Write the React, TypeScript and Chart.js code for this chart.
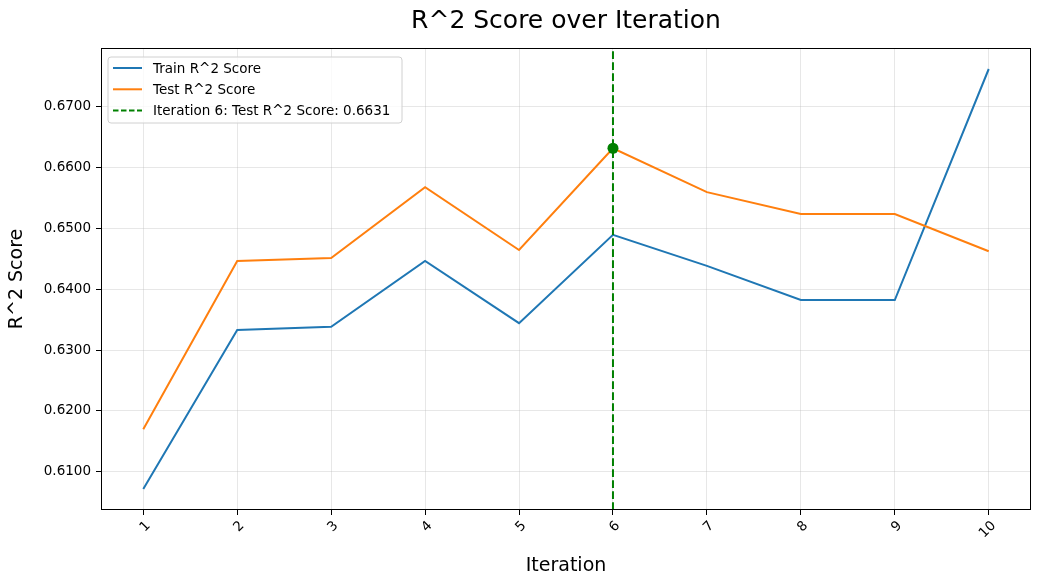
import React, { useEffect, useRef } from "react";
import { Chart, registerables } from "chart.js";

Chart.register(...registerables);

const iterations = [1, 2, 3, 4, 5, 6, 7, 8, 9, 10];
const trainScores = [0.6072, 0.6333, 0.6338, 0.6446, 0.6344, 0.6489, 0.6438, 0.6382, 0.6382, 0.6761];
const testScores = [0.617, 0.6446, 0.6451, 0.6567, 0.6464, 0.6631, 0.6559, 0.6523, 0.6523, 0.6462];
const yTicks = [0.61, 0.62, 0.63, 0.64, 0.65, 0.66, 0.67];
const bestIteration = 6;
const bestScore = 0.6631;

const CHART_TITLE = "R^2 Score over Iteration";
const TRAIN_LABEL = "Train R^2 Score";
const TEST_LABEL = "Test R^2 Score";
const BEST_LABEL = `Iteration ${bestIteration}: Test R^2 Score: ${bestScore.toFixed(4)}`;

const FONT = "'DejaVu Sans', 'Liberation Sans', sans-serif";

const allVals = [...trainScores, ...testScores];
const dMin = Math.min(...allVals);
const dMax = Math.max(...allVals);
const yMin = dMin - 0.05 * (dMax - dMin);
const yMax = dMax + 0.05 * (dMax - dMin);
const xMin = iterations[0] - 0.45;
const xMax = iterations[iterations.length - 1] + 0.45;

const framePlugin = {
  id: "frameAndLegend",
  afterDraw(chart: any) {
    const ctx = chart.ctx as CanvasRenderingContext2D;
    const a = chart.chartArea;
    ctx.save();
    ctx.strokeStyle = "#000";
    ctx.lineWidth = 1;
    ctx.strokeRect(Math.round(a.left) + 0.5, Math.round(a.top) + 0.5, Math.round(a.right - a.left) - 1, Math.round(a.bottom - a.top) - 1);

    // title centred over the plot area
    ctx.fillStyle = "#000";
    ctx.font = `25px ${FONT}`;
    ctx.textAlign = "center";
    ctx.textBaseline = "middle";
    ctx.fillText(CHART_TITLE, (a.left + a.right) / 2, 21);

    // legend box
    const bx = a.left + 7;
    const by = a.top + 9;
    const bw = 294;
    const bh = 66;
    const r = 3;
    ctx.beginPath();
    ctx.moveTo(bx + r, by);
    ctx.lineTo(bx + bw - r, by);
    ctx.quadraticCurveTo(bx + bw, by, bx + bw, by + r);
    ctx.lineTo(bx + bw, by + bh - r);
    ctx.quadraticCurveTo(bx + bw, by + bh, bx + bw - r, by + bh);
    ctx.lineTo(bx + r, by + bh);
    ctx.quadraticCurveTo(bx, by + bh, bx, by + bh - r);
    ctx.lineTo(bx, by + r);
    ctx.quadraticCurveTo(bx, by, bx + r, by);
    ctx.closePath();
    ctx.fillStyle = "rgba(255,255,255,0.8)";
    ctx.fill();
    ctx.strokeStyle = "#d0d0d0";
    ctx.stroke();

    const items = [
      { label: TRAIN_LABEL, color: "#1f77b4", dash: [] as number[] },
      { label: TEST_LABEL, color: "#ff7f0e", dash: [] as number[] },
      { label: BEST_LABEL, color: "#008000", dash: [5.5, 2.5] },
    ];
    ctx.font = `13.5px ${FONT}`;
    ctx.textBaseline = "middle";
    ctx.textAlign = "left";
    items.forEach((it, i) => {
      const yy = by + 11 + i * 21.3;
      ctx.beginPath();
      ctx.setLineDash(it.dash);
      ctx.strokeStyle = it.color;
      ctx.lineWidth = 2;
      ctx.moveTo(bx + 5, yy);
      ctx.lineTo(bx + 34, yy);
      ctx.stroke();
      ctx.setLineDash([]);
      ctx.fillStyle = "#000";
      ctx.fillText(it.label, bx + 45, yy + 1);
    });
    ctx.restore();
  },
};

export default function App() {
  const ref = useRef<HTMLCanvasElement | null>(null);

  useEffect(() => {
    if (!ref.current) return;
    const gridColor = "rgba(176,176,176,0.3)";
    const chart = new Chart(ref.current, {
      type: "line",
      data: {
        datasets: [
          {
            label: "best-point",
            data: [{ x: bestIteration, y: bestScore }],
            showLine: false,
            pointRadius: 5.5,
            pointBackgroundColor: "#008000",
            pointBorderColor: "#008000",
            pointBorderWidth: 0,
            order: 0,
          } as any,
          {
            label: BEST_LABEL,
            data: [
              { x: bestIteration, y: yMin },
              { x: bestIteration, y: yMax },
            ],
            borderColor: "#008000",
            borderWidth: 2,
            borderDash: [7.7, 3.3],
            pointRadius: 0,
            order: 1,
          },
          {
            label: TEST_LABEL,
            data: iterations.map((x, i) => ({ x, y: testScores[i] })),
            borderColor: "#ff7f0e",
            borderWidth: 2,
            pointRadius: 0,
            order: 2,
          },
          {
            label: TRAIN_LABEL,
            data: iterations.map((x, i) => ({ x, y: trainScores[i] })),
            borderColor: "#1f77b4",
            borderWidth: 2,
            pointRadius: 0,
            order: 3,
          },
        ],
      },
      options: {
        animation: false,
        responsive: false,
        devicePixelRatio: 1,
        layout: { padding: { left: 0, right: 9, top: 48, bottom: 0 } },
        plugins: {
          legend: { display: false },
          tooltip: { enabled: false },
          title: { display: false },
        },
        scales: {
          x: {
            type: "linear",
            min: xMin,
            max: xMax,
            afterBuildTicks: (axis: any) => {
              axis.ticks = iterations.map((v) => ({ value: v }));
            },
            afterFit: (axis: any) => {
              axis.height = 76;
            },
            border: { display: false },
            grid: { color: gridColor, tickColor: "#000", tickLength: 5, lineWidth: 1 },
            ticks: {
              color: "#000",
              font: { family: FONT, size: 13.5 },
              minRotation: 45,
              maxRotation: 45,
              padding: 3,
              labelOffset: 5,
              callback: (v: any) => String(v),
            },
            title: {
              display: true,
              text: "Iteration",
              color: "#000",
              font: { family: FONT, size: 19, lineHeight: 1.2 },
              padding: { top: 0, bottom: 8.6 },
            },
          },
          y: {
            type: "linear",
            min: yMin,
            max: yMax,
            afterBuildTicks: (axis: any) => {
              axis.ticks = yTicks.map((v) => ({ value: v }));
            },
            afterFit: (axis: any) => {
              axis.width = 101;
            },
            border: { display: false },
            grid: { color: gridColor, tickColor: "#000", tickLength: 5, lineWidth: 1 },
            ticks: {
              color: "#000",
              font: { family: FONT, size: 13.5 },
              padding: 5,
              callback: (v: any) => Number(v).toFixed(4),
            },
            title: {
              display: true,
              text: "R^2 Score",
              color: "#000",
              font: { family: FONT, size: 19, lineHeight: 1.2 },
              padding: { top: 5.6, bottom: 0 },
            },
          },
        },
      },
      plugins: [framePlugin],
    });
    return () => chart.destroy();
  }, []);

  return (
    <div style={{ position: "absolute", left: 0, top: 0, width: 1040, height: 586 }}>
      <canvas ref={ref} width={1040} height={586} style={{ width: 1040, height: 586, display: "block" }} />
    </div>
  );
}
